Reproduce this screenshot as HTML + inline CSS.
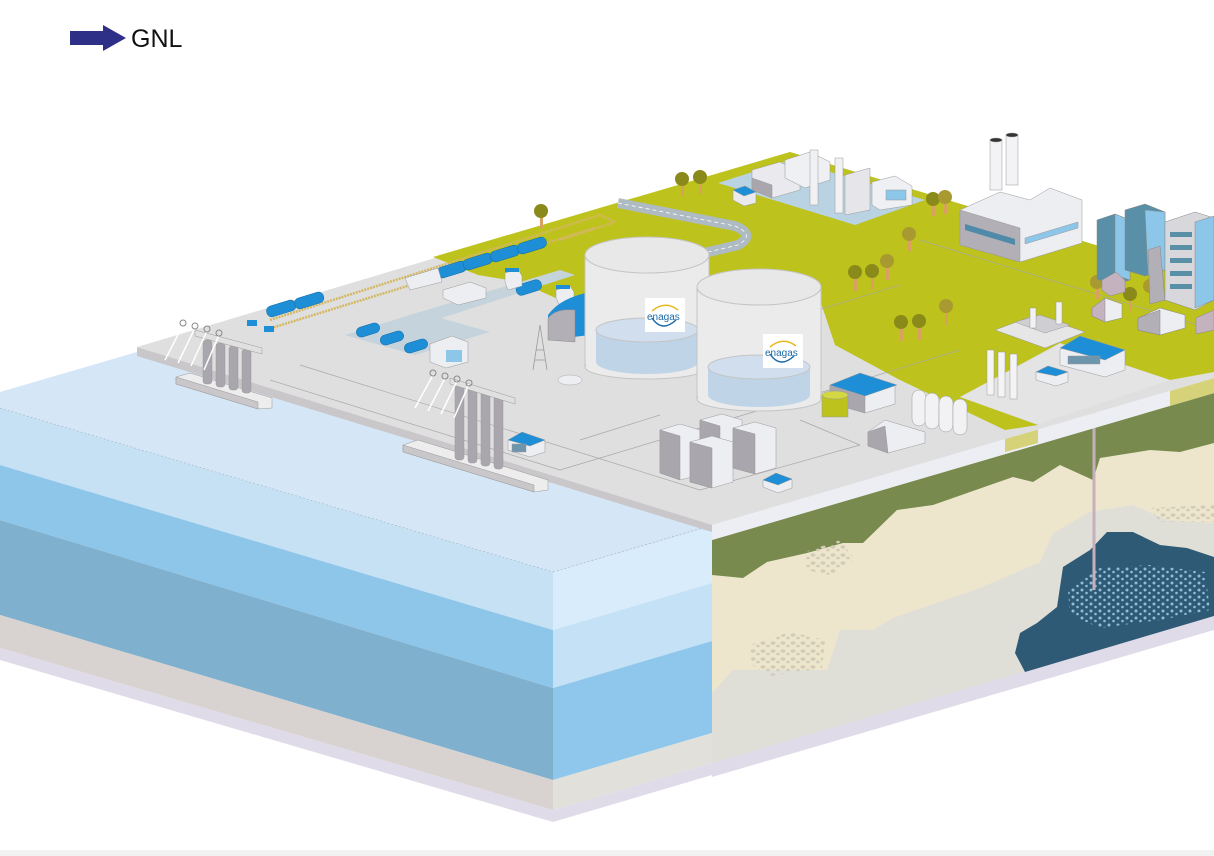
<!DOCTYPE html>
<html><head><meta charset="utf-8"><style>
html,body{margin:0;padding:0;background:#fff;width:1214px;height:856px;overflow:hidden}
svg{display:block}
</style></head><body>
<svg width="1214" height="856" viewBox="0 0 1214 856" xmlns="http://www.w3.org/2000/svg">
<defs>
<pattern id="spk" width="9" height="7" patternUnits="userSpaceOnUse">
<circle cx="2" cy="2" r="1.5" fill="#8fbcd8"/><circle cx="6.5" cy="5" r="1.3" fill="#8fbcd8"/>
</pattern>
<pattern id="peb" width="10" height="8" patternUnits="userSpaceOnUse">
<ellipse cx="3" cy="3" rx="2.5" ry="1.8" fill="#d2cbb6"/><ellipse cx="8" cy="6" rx="1.8" ry="1.4" fill="#d2cbb6"/>
</pattern>
</defs>
<rect x="0" y="850" width="1214" height="6" fill="#f2f2f2"/>
<polygon points="70,31 103,31 103,25 126,38 103,51 103,45 70,45" fill="#2e2f86"/>
<text x="131" y="47" font-family="Liberation Sans, sans-serif" font-size="25" fill="#111">GNL</text>

<polygon points="0,408 553,572 553,630 0,465" fill="#c6e0f4"/>
<polygon points="0,465 553,630 553,688 0,520" fill="#8ec6ea"/>
<polygon points="0,520 553,688 553,780 0,615" fill="#7fb1cf"/>
<polygon points="0,615 553,780 553,810 0,648" fill="#d8d2d0"/>
<polygon points="0,648 553,810 553,822 0,660" fill="#e0dbe8"/>
<polygon points="553,572 712,525 712,583 553,630" fill="#d8ecfb"/>
<polygon points="553,630 712,583 712,641 553,688" fill="#c5e1f5"/>
<polygon points="553,688 712,641 712,733 553,780" fill="#8ec7eb"/>
<polygon points="553,780 712,733 712,763 553,810" fill="#e1e0da"/>
<polygon points="553,810 712,763 712,775 553,822" fill="#e0dbe8"/>
<polygon points="0,392 137,352 712,527 553,572 0,408" fill="#d5e7f6"/>
<line x1="0" y1="408" x2="553" y2="572" stroke="#9fb4c4" stroke-width="0.6" stroke-dasharray="2,2"/>
<line x1="553" y1="572" x2="712" y2="525" stroke="#9fb4c4" stroke-width="0.6" stroke-dasharray="2,2"/>

<polygon points="712,540 1214,393 1214,628 712,775" fill="#dfdfd8"/>
<polygon points="712,763 1214,616 1214,630 712,777" fill="#e0dbe8"/>
<polygon points="712,540 1214,393 1214,523 1167,520 1133,505 1090,512 1053,533 1040,562 980,588 893,618 873,630 840,630 827,670 733,670 712,693" fill="#ede6cd"/>
<polygon points="712,540 1214,393 1214,443 1180,452 1150,450 1100,458 1093,480 1060,465 1033,482 1013,477 990,485 933,505 897,510 863,543 843,543 807,553 767,562 743,578 712,575" fill="#788a4e"/>
<polygon points="1025,672 1015,653 1020,633 1037,623 1057,607 1063,567 1090,550 1107,532 1133,532 1160,545 1187,548 1214,557 1214,616" fill="#2f5a75"/>
<polygon points="1068,590 1100,568 1150,565 1205,572 1210,610 1160,620 1100,628 1070,615" fill="url(#spk)"/>
<polygon points="750,645 790,632 825,640 822,668 770,676 752,665" fill="url(#peb)"/>
<polygon points="805,552 840,540 855,560 830,575 806,570" fill="url(#peb)"/>
<polygon points="1150,508 1214,505 1214,522 1160,522" fill="url(#peb)"/>
<line x1="1094" y1="395" x2="1094" y2="590" stroke="#c6b0bc" stroke-width="3"/>

<polygon points="712,525 1214,378 1214,393 712,540" fill="#eceef4"/>
<polygon points="1005,437 1038,428 1038,443 1005,452" fill="#d6d27a"/>
<polygon points="1170,391 1214,378 1214,393 1170,406" fill="#d6d27a"/>
<polygon points="137,347 712,522 712,532 137,356" fill="#c9c7c9"/>
<polygon points="137,347 790,152 1214,281 1214,378 712,525" fill="#dfdfdf"/>
<polygon points="433,257 790,152 1214,281 1214,372 1170,380 1060,343 960,397 1038,425 1005,430 900,380 835,345 820,300 600,295 560,300 520,282 478,275" fill="#bdc21c"/>
<polygon points="960,397 1060,345 1170,380 1038,424" fill="#e4e4e4"/>
<polygon points="718,183 790,160 925,200 855,225" fill="#b9d3e2"/>
<path d="M618,203 L735,226 Q756,235 738,245 L700,254" fill="none" stroke="#aebbc3" stroke-width="10"/>
<path d="M618,203 L735,226 Q756,235 738,245 L700,254" fill="none" stroke="#fff" stroke-width="0.8" stroke-dasharray="4,3"/>
<path d="M270,320 L600,215 L615,222 L560,240" fill="none" stroke="#d4b860" stroke-width="2.5" stroke-dasharray="2,1"/>
<path d="M265,330 L595,228" fill="none" stroke="#d4b860" stroke-width="2.5" stroke-dasharray="2,1"/>
<polygon points="345,335 420,312 490,332 415,355" fill="#c5d3dc"/>
<polygon points="400,318 560,270 575,275 420,325" fill="#c5d3dc"/>
<g stroke="#a8a8a8" stroke-width="0.7" fill="none">
<path d="M270,380 L560,470 M300,365 L700,490 M560,470 L760,410 M580,440 L660,415 M700,490 L860,445 M860,445 L800,420 M780,405 L960,350 M720,340 L900,285 M920,240 L1214,330"/>
</g>

<g>
<g fill="#d9a060"><rect x="540" y="212" width="3" height="16"/><rect x="681" y="180" width="3" height="16"/><rect x="699" y="178" width="3" height="16"/><rect x="908" y="235" width="3" height="16"/><rect x="932" y="200" width="3" height="16"/><rect x="944" y="198" width="3" height="16"/><rect x="854" y="273" width="3" height="18"/><rect x="871" y="272" width="3" height="18"/><rect x="886" y="262" width="3" height="18"/><rect x="900" y="323" width="3" height="18"/><rect x="918" y="322" width="3" height="18"/><rect x="945" y="307" width="3" height="18"/><rect x="1096" y="283" width="3" height="16"/><rect x="1129" y="295" width="3" height="16"/><rect x="1149" y="287" width="3" height="16"/></g>
<g fill="#8a8a1a"><circle cx="541" cy="211" r="7"/><circle cx="682" cy="179" r="7"/><circle cx="700" cy="177" r="7"/><circle cx="909" cy="234" r="7" fill="#a89a30"/><circle cx="933" cy="199" r="7"/><circle cx="945" cy="197" r="7" fill="#a89a30"/><circle cx="855" cy="272" r="7"/><circle cx="872" cy="271" r="7"/><circle cx="887" cy="261" r="7" fill="#a89a30"/><circle cx="901" cy="322" r="7"/><circle cx="919" cy="321" r="7"/><circle cx="946" cy="306" r="7" fill="#a89a30"/><circle cx="1097" cy="282" r="7" fill="#a89a30"/><circle cx="1130" cy="294" r="7"/><circle cx="1150" cy="286" r="7" fill="#a89a30"/></g>
</g>

<g stroke="#999" stroke-width="0.5">
<polygon points="752,170 780,162 800,172 800,190 772,198 752,188" fill="#e9e9ee"/>
<polygon points="752,178 772,185 772,198 752,190" fill="#aaa6ae"/>
<polygon points="785,160 810,152 830,162 830,180 805,188 785,178" fill="#eef0f4"/>
<rect x="810" y="150" width="8" height="55" fill="#f1f1f4"/>
<rect x="835" y="158" width="8" height="55" fill="#f1f1f4"/>
<polygon points="845,175 870,168 870,210 845,215" fill="#e6e6ea"/>
<polygon points="872,182 895,176 912,186 912,205 880,210 872,205" fill="#eef0f4"/>
<rect x="886" y="190" width="20" height="10" fill="#8cc6e8"/>
<polygon points="733,190 745,186 756,192 756,203 744,206 733,200" fill="#e9e9ee"/>
<polygon points="733,190 745,186 756,192 744,196" fill="#1e8fd6"/>
</g>
<g stroke="#999" stroke-width="0.5">
<rect x="990" y="140" width="12" height="50" fill="#f3f3f5"/><ellipse cx="996" cy="140" rx="6" ry="2" fill="#333"/>
<rect x="1006" y="135" width="12" height="50" fill="#f3f3f5"/><ellipse cx="1012" cy="135" rx="6" ry="2" fill="#333"/>
<polygon points="960,210 1000,192 1030,200 1050,188 1082,200 1082,243 1020,262 960,245" fill="#eceef2"/>
<polygon points="960,210 1020,228 1020,262 960,245" fill="#b3afb6"/>
<polygon points="965,224 1015,239 1015,245 965,230" fill="#4f8aa8" stroke="none"/>
<polygon points="1025,238 1078,222 1078,228 1025,244" fill="#8cc6e8"/>
</g>
<g stroke="#888" stroke-width="0.5">
<polygon points="1097,220 1115,214 1130,220 1130,280 1112,285 1097,279" fill="#5a8fa8"/>
<polygon points="1115,214 1130,220 1130,280 1115,275" fill="#8cc6e8"/>
<polygon points="1125,210 1145,204 1165,212 1165,270 1145,276 1125,270" fill="#5a8fa8"/>
<polygon points="1145,210 1165,212 1165,270 1148,275" fill="#8cc6e8"/>
<polygon points="1148,250 1160,246 1165,300 1150,304" fill="#b3afb6"/>
<polygon points="1165,222 1195,212 1214,218 1214,300 1195,310 1165,300" fill="#d8d8dc"/>
<polygon points="1195,222 1214,216 1214,300 1195,308" fill="#8cc6e8"/>
<g stroke="none" fill="#5a8fa8"><rect x="1170" y="232" width="22" height="5"/><rect x="1170" y="245" width="22" height="5"/><rect x="1170" y="258" width="22" height="5"/><rect x="1170" y="271" width="22" height="5"/><rect x="1170" y="284" width="22" height="5"/></g>
<polygon points="1092,308 1105,298 1122,304 1122,318 1105,322 1092,316" fill="#eceef2"/>
<polygon points="1092,308 1105,298 1105,322 1092,316" fill="#c4b3bf"/>
<polygon points="1138,318 1160,308 1185,315 1185,328 1160,335 1138,330" fill="#eceef2"/>
<polygon points="1138,318 1160,310 1160,335 1138,330" fill="#b3afb6"/>
<polygon points="1196,318 1214,310 1214,330 1196,334" fill="#c4b3bf"/>
<polygon points="1102,280 1116,272 1125,280 1125,292 1110,296 1102,290" fill="#c4b3bf"/>
</g>
<g stroke="#999" stroke-width="0.5">
<polygon points="995,330 1035,315 1085,332 1045,348" fill="#e6e6e6"/>
<polygon points="1015,322 1040,315 1070,325 1045,333" fill="#cfcfd3"/>
<rect x="1030" y="308" width="6" height="20" fill="#f2f2f2"/><rect x="1056" y="302" width="6" height="22" fill="#f2f2f2"/>
</g>
<g stroke="#999" stroke-width="0.5">
<rect x="987" y="350" width="7" height="45" fill="#f4f4f6"/><rect x="998" y="352" width="7" height="45" fill="#f4f4f6"/><rect x="1010" y="354" width="7" height="45" fill="#f4f4f6"/>
<polygon points="1060,350 1078,337 1125,350 1125,370 1105,377 1060,365" fill="#eceef2"/>
<polygon points="1060,348 1080,336 1125,350 1105,360" fill="#1e8fd6"/>
<rect x="1068" y="356" width="32" height="8" fill="#6d95ab"/>
<polygon points="1036,372 1048,366 1068,372 1068,382 1056,386 1036,380" fill="#eceef2"/>
<polygon points="1036,372 1048,366 1068,372 1056,376" fill="#1e8fd6"/>
</g>

<g stroke="#999" stroke-width="0.5">
<polygon points="176,377 190,373 272,398 272,408 258,409 176,384" fill="#ededed"/>
<polygon points="176,377 258,402 258,409 176,384" fill="#c9c7c9"/>
<g fill="#aaa6ae"><rect x="203" y="340" width="9" height="44" rx="3"/><rect x="216" y="343" width="9" height="44" rx="3"/><rect x="229" y="346" width="9" height="44" rx="3"/><rect x="242" y="349" width="9" height="44" rx="3"/></g>
<polygon points="195,330 262,348 262,354 195,336" fill="#e0e0e0"/>
</g>
<g stroke="#fff" stroke-width="1.5"><line x1="165" y1="360" x2="183" y2="325"/><line x1="178" y1="363" x2="195" y2="328"/><line x1="191" y1="366" x2="207" y2="331"/><line x1="204" y1="370" x2="219" y2="335"/></g>
<g fill="none" stroke="#888" stroke-width="1"><circle cx="183" cy="323" r="3"/><circle cx="195" cy="326" r="3"/><circle cx="207" cy="329" r="3"/><circle cx="219" cy="333" r="3"/></g>
<g stroke="#999" stroke-width="0.5">
<polygon points="403,445 418,440 548,480 548,490 534,492 403,452" fill="#ededed"/>
<polygon points="403,445 534,485 534,492 403,452" fill="#c9c7c9"/>
<g fill="#aaa6ae"><rect x="455" y="385" width="9" height="75" rx="3"/><rect x="468" y="388" width="9" height="75" rx="3"/><rect x="481" y="391" width="9" height="75" rx="3"/><rect x="494" y="394" width="9" height="75" rx="3"/></g>
<polygon points="450,378 515,398 515,404 450,384" fill="#e0e0e0"/>
</g>
<g stroke="#fff" stroke-width="1.5"><line x1="415" y1="408" x2="433" y2="375"/><line x1="428" y1="411" x2="445" y2="378"/><line x1="441" y1="414" x2="457" y2="381"/><line x1="454" y1="418" x2="469" y2="384"/></g>
<g fill="none" stroke="#888" stroke-width="1"><circle cx="433" cy="373" r="3"/><circle cx="445" cy="376" r="3"/><circle cx="457" cy="379" r="3"/><circle cx="469" cy="383" r="3"/></g>

<g fill="#1e8fd6" stroke="#0f6aa6" stroke-width="0.5">
<rect x="266" y="303" width="30" height="11" rx="5" transform="rotate(-17 281 308)"/>
<rect x="294" y="295" width="30" height="11" rx="5" transform="rotate(-17 309 300)"/>
<rect x="437" y="264" width="30" height="11" rx="5" transform="rotate(-17 452 270)"/>
<rect x="463" y="256" width="30" height="11" rx="5" transform="rotate(-17 478 262)"/>
<rect x="490" y="248" width="30" height="11" rx="5" transform="rotate(-17 505 254)"/>
<rect x="517" y="240" width="30" height="11" rx="5" transform="rotate(-17 532 246)"/>
<rect x="516" y="282" width="26" height="11" rx="5" transform="rotate(-17 529 288)"/>
<rect x="356" y="325" width="24" height="10" rx="5" transform="rotate(-17 368 330)"/>
<rect x="380" y="333" width="24" height="10" rx="5" transform="rotate(-17 392 338)"/>
<rect x="404" y="341" width="24" height="10" rx="5" transform="rotate(-17 416 346)"/>
</g>
<g fill="#eceef2" stroke="#999" stroke-width="0.5">
<polygon points="405,278 438,268 442,282 410,290"/>
<polygon points="443,290 470,282 486,288 486,298 458,305 443,298"/>
<polygon points="430,344 452,336 468,342 468,362 446,368 430,362"/>
<polygon points="505,273 518,269 522,276 522,286 508,290 505,282"/>
<polygon points="556,290 570,286 574,292 574,302 560,306 556,298"/>
</g>
<rect x="446" y="350" width="16" height="12" fill="#8cc6e8"/>
<g fill="#1e8fd6"><rect x="247" y="320" width="10" height="6"/><rect x="264" y="326" width="10" height="6"/><rect x="505" y="268" width="14" height="4"/><rect x="556" y="285" width="14" height="4"/></g>
<path d="M548,340 L548,315 Q560,298 590,292 L590,335 Z" fill="#1e8fd6"/>
<path d="M548,340 L548,318 Q556,308 575,310 L575,342 Z" fill="#b3afb6" stroke="#888" stroke-width="0.5"/>
<path d="M533,370 L540,325 L547,370 M536,350 L544,350 M535,360 L545,360" stroke="#999" fill="none" stroke-width="0.8"/>
<ellipse cx="570" cy="380" rx="12" ry="5" fill="#eceef2" stroke="#aaa" stroke-width="0.5"/>

<g stroke="#c4c4c4" stroke-width="1">
<rect x="585" y="255" width="124" height="112" fill="#ebebeb"/>
<ellipse cx="647" cy="367" rx="62" ry="12" fill="#ebebeb"/>
<rect x="586" y="256" width="122" height="110" fill="#ebebeb" stroke="none"/>
<rect x="596" y="330" width="102" height="32" fill="#bfd4e7" stroke="none"/>
<ellipse cx="647" cy="362" rx="51" ry="12" fill="#bfd4e7" stroke="none"/>
<ellipse cx="647" cy="330" rx="51" ry="12" fill="#d0deee"/>
<ellipse cx="647" cy="255" rx="62" ry="18" fill="#e8e8e8"/>
</g>
<rect x="645" y="298" width="40" height="34" fill="#fff"/>
<path d="M652,311 Q665,300 678,310" fill="none" stroke="#e8b820" stroke-width="1.5"/>
<path d="M652,318 Q662,333 676,320" fill="none" stroke="#1b6aa8" stroke-width="1.5"/>
<text x="647" y="320" font-family="Liberation Sans, sans-serif" font-size="10" fill="#1b6aa8">enagas</text>
<g stroke="#c4c4c4" stroke-width="1">
<rect x="697" y="287" width="124" height="112" fill="#ebebeb"/>
<ellipse cx="759" cy="399" rx="62" ry="12" fill="#ebebeb"/>
<rect x="698" y="288" width="122" height="110" fill="#ebebeb" stroke="none"/>
<rect x="708" y="367" width="102" height="28" fill="#bfd4e7" stroke="none"/>
<ellipse cx="759" cy="395" rx="51" ry="12" fill="#bfd4e7" stroke="none"/>
<ellipse cx="759" cy="367" rx="51" ry="12" fill="#d0deee"/>
<ellipse cx="759" cy="287" rx="62" ry="18" fill="#e8e8e8"/>
</g>
<rect x="763" y="334" width="40" height="34" fill="#fff"/>
<path d="M770,347 Q783,336 796,346" fill="none" stroke="#e8b820" stroke-width="1.5"/>
<path d="M770,354 Q780,369 794,356" fill="none" stroke="#1b6aa8" stroke-width="1.5"/>
<text x="765" y="356" font-family="Liberation Sans, sans-serif" font-size="10" fill="#1b6aa8">enagas</text>

<g stroke="#999" stroke-width="0.5">
<polygon points="660,430 680,424 700,430 700,475 680,480 660,473" fill="#eceef2"/>
<polygon points="660,430 680,436 680,480 660,473" fill="#aaa6ae"/>
<polygon points="700,420 722,414 742,420 742,460 720,466 700,460" fill="#eceef2"/>
<polygon points="700,420 720,426 720,466 700,460" fill="#aaa6ae"/>
<polygon points="690,442 712,436 733,442 733,482 712,488 690,482" fill="#eceef2"/>
<polygon points="690,442 712,448 712,488 690,482" fill="#aaa6ae"/>
<polygon points="733,428 755,422 776,428 776,468 755,474 733,468" fill="#eceef2"/>
<polygon points="733,428 755,434 755,474 733,468" fill="#aaa6ae"/>
<polygon points="830,385 860,374 895,385 895,404 865,413 830,403" fill="#eceef2"/>
<polygon points="830,385 865,395 865,413 830,403" fill="#aaa6ae"/>
<polygon points="830,385 860,373 897,385 865,396" fill="#1e8fd6"/>
<rect x="822" y="395" width="26" height="22" fill="#bdc21c"/>
<ellipse cx="835" cy="395" rx="13" ry="4" fill="#d4d642"/>
<g fill="#f2f2f4"><rect x="912" y="390" width="14" height="36" rx="7"/><rect x="925" y="393" width="14" height="36" rx="7"/><rect x="939" y="396" width="14" height="36" rx="7"/><rect x="953" y="399" width="14" height="36" rx="7"/></g>
<polygon points="868,432 885,420 925,432 925,443 888,453 868,446" fill="#eceef2"/>
<polygon points="868,432 885,426 888,453 868,446" fill="#aaa6ae"/>
<polygon points="508,440 522,434 545,441 545,452 530,457 508,450" fill="#eceef2"/>
<polygon points="508,440 522,432 545,440 530,446" fill="#1e8fd6"/>
<rect x="512" y="444" width="14" height="8" fill="#6d95ab"/>
<polygon points="763,480 776,474 792,480 792,488 778,493 763,487" fill="#eceef2"/>
<polygon points="763,480 776,473 792,479 778,485" fill="#1e8fd6"/>
</g>
</svg>
</body></html>
